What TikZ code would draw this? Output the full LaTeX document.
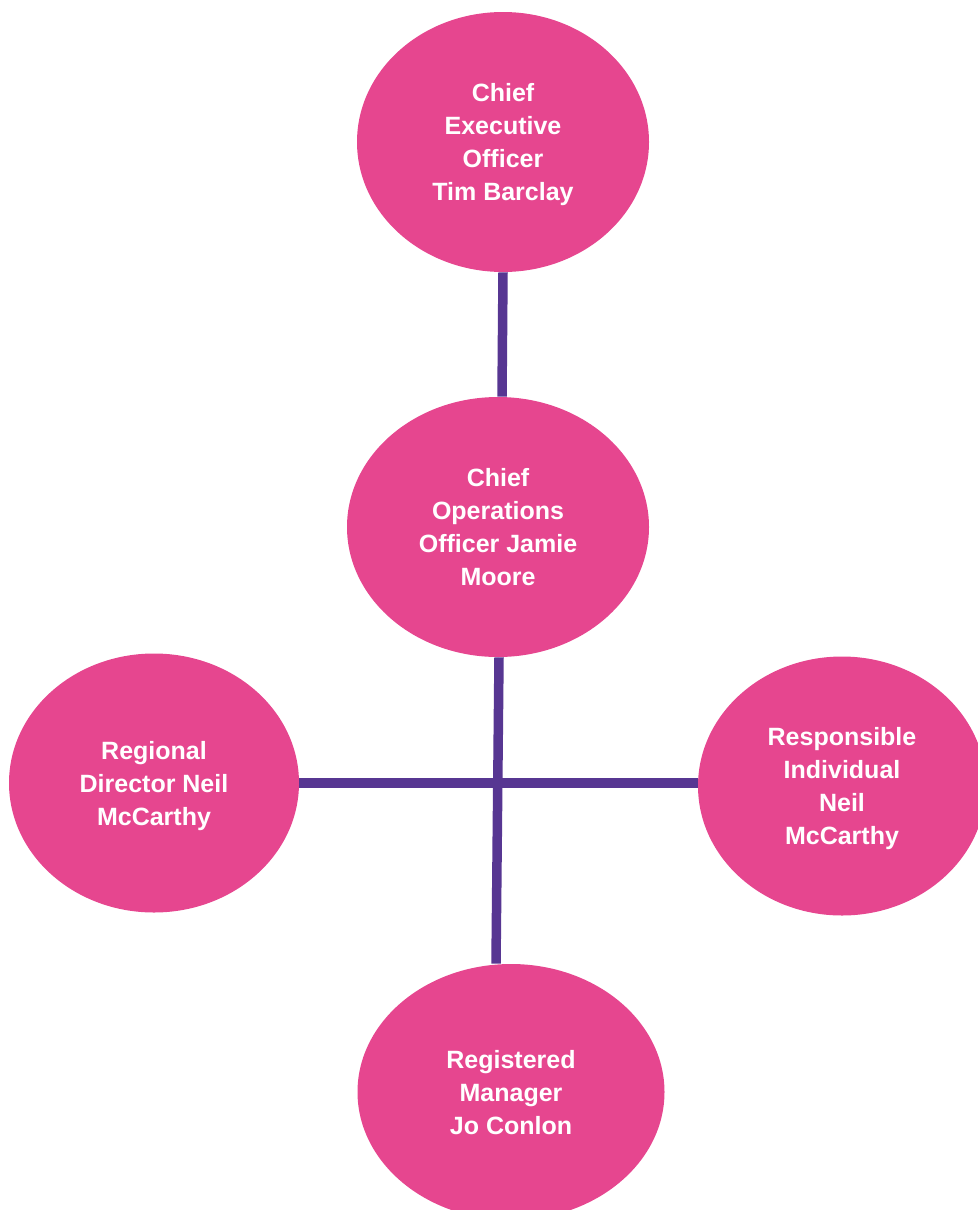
\documentclass[tikz,border=0pt]{standalone}
\usepackage{fontspec}
\setmainfont{Liberation Sans}
\usepackage{tikz}
\usetikzlibrary{shapes.geometric}
\definecolor{rolepink}{HTML}{E6468F}
\definecolor{linkpurple}{HTML}{573692}
\tikzset{
    role/.style={ellipse, fill=rolepink, text=white, inner sep=0pt, align=center, text depth=0pt,
        font=\fontsize{12.5}{16.5}\selectfont\bfseries},
    link/.style={draw=linkpurple, line width=4.75pt}
}
\begin{document}
\begin{tikzpicture}[x=0.5pt, y=-0.5pt]
                    \useasboundingbox (0, 0) rectangle (978, 1210);
                    \path
                        (503,  142) node[role, minimum width = 146pt, minimum height = 130pt](CEO){Chief\\Executive\\Officer\\Tim Barclay}
                        (498,  527) node[role, minimum width = 151pt, minimum height = 130pt](COO){Chief\\Operations\\Officer Jamie\\Moore}
                        (154,  783) node[role, minimum width = 145pt, minimum height = 129.5pt](RD){Regional\\Director Neil\\McCarthy}
                        (842,  786) node[role, minimum width = 144pt, minimum height = 129.5pt](RI){Responsible\\Individual\\Neil\\McCarthy}
                        (511, 1092) node[role, minimum width = 153.5pt, minimum height = 128pt](RM){Registered\\Manager\\Jo Conlon}
                    ;
                    \draw[link] (CEO.south) -- ([xshift=2pt]COO.north);
                    \draw[link] (RD.east) -- (RD.east -| RI.west);
                    \draw[link] ([xshift=0.5pt]COO.south) -- ([xshift=-7.5pt]RM.north);

                \end{tikzpicture}
\end{document}
